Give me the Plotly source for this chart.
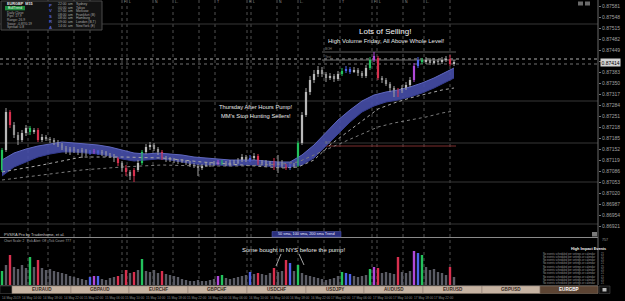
import plotly.graph_objects as go

W, H = 625, 301
FONT = "Liberation Sans"

# ---------------- data ----------------
opens = [0.87090,0.87150,0.87264,0.87225,0.87195,0.87180,0.87201,0.87216,0.87204,0.87210,
         0.87180,0.87189,0.87183,0.87180,0.87174,0.87165,0.87156,0.87144,0.87153,0.87147,
         0.87144,0.87150,0.87141,0.87144,0.87147,0.87141,0.87144,0.87135,0.87132,0.87126,
         0.87111,0.87096,0.87084,0.87072,0.87090,0.87111,0.87144,0.87159,0.87165,0.87153,
         0.87144,0.87126,0.87120,0.87123,0.87117,0.87114,0.87117,0.87111,0.87105,0.87102,
         0.87096,0.87102,0.87108,0.87105,0.87111,0.87114,0.87111,0.87108,0.87114,0.87111,
         0.87120,0.87129,0.87120,0.87126,0.87132,0.87111,0.87114,0.87108,0.87111,0.87105,
         0.87114,0.87102,0.87096,0.87102,0.87105,0.87171,0.87255,0.87324,0.87360,0.87378,
         0.87390,0.87378,0.87366,0.87372,0.87363,0.87378,0.87387,0.87393,0.87384,0.87390,
         0.87381,0.87372,0.87396,0.87420,0.87426,0.87366,0.87360,0.87348,0.87336,0.87321,
         0.87327,0.87336,0.87345,0.87360,0.87402,0.87420,0.87414,0.87420,0.87411,0.87417,
         0.87414,0.87420,0.87423,0.87408]
highs = [0.87156,0.87276,0.87270,0.87234,0.87204,0.87210,0.87225,0.87222,0.87216,0.87216,
         0.87198,0.87195,0.87189,0.87186,0.87180,0.87171,0.87162,0.87159,0.87159,0.87153,
         0.87156,0.87153,0.87150,0.87153,0.87150,0.87150,0.87147,0.87141,0.87138,0.87129,
         0.87117,0.87105,0.87090,0.87096,0.87120,0.87150,0.87168,0.87174,0.87171,0.87159,
         0.87150,0.87132,0.87129,0.87126,0.87123,0.87123,0.87120,0.87117,0.87111,0.87108,
         0.87108,0.87114,0.87114,0.87117,0.87120,0.87120,0.87117,0.87120,0.87120,0.87126,
         0.87138,0.87135,0.87135,0.87141,0.87138,0.87120,0.87120,0.87117,0.87126,0.87135,
         0.87120,0.87108,0.87108,0.87111,0.87177,0.87264,0.87336,0.87372,0.87390,0.87402,
         0.87399,0.87384,0.87381,0.87378,0.87387,0.87396,0.87402,0.87399,0.87399,0.87396,
         0.87387,0.87405,0.87429,0.87444,0.87432,0.87372,0.87366,0.87354,0.87342,0.87336,
         0.87345,0.87354,0.87369,0.87411,0.87429,0.87426,0.87429,0.87426,0.87426,0.87423,
         0.87429,0.87432,0.87435,0.87420]
lows = [0.87084,0.87144,0.87216,0.87186,0.87165,0.87174,0.87192,0.87195,0.87198,0.87174,
        0.87174,0.87177,0.87171,0.87165,0.87159,0.87150,0.87138,0.87135,0.87141,0.87135,
        0.87126,0.87132,0.87135,0.87138,0.87135,0.87132,0.87129,0.87126,0.87114,0.87102,
        0.87084,0.87072,0.87060,0.87054,0.87084,0.87105,0.87138,0.87150,0.87147,0.87135,
        0.87120,0.87114,0.87114,0.87111,0.87108,0.87111,0.87105,0.87099,0.87096,0.87072,
        0.87090,0.87099,0.87099,0.87102,0.87105,0.87105,0.87102,0.87102,0.87105,0.87108,
        0.87114,0.87114,0.87114,0.87120,0.87105,0.87105,0.87102,0.87102,0.87090,0.87081,
        0.87096,0.87090,0.87090,0.87096,0.87099,0.87165,0.87249,0.87315,0.87351,0.87369,
        0.87369,0.87354,0.87360,0.87354,0.87357,0.87372,0.87381,0.87378,0.87381,0.87372,
        0.87366,0.87366,0.87390,0.87414,0.87360,0.87351,0.87342,0.87324,0.87309,0.87309,
        0.87321,0.87330,0.87339,0.87354,0.87396,0.87408,0.87408,0.87405,0.87408,0.87405,
        0.87408,0.87414,0.87402,0.87402]
closes = [0.87150,0.87264,0.87225,0.87195,0.87180,0.87201,0.87216,0.87204,0.87210,0.87180,
          0.87189,0.87183,0.87180,0.87174,0.87165,0.87156,0.87144,0.87153,0.87147,0.87144,
          0.87150,0.87141,0.87144,0.87147,0.87141,0.87144,0.87135,0.87132,0.87126,0.87111,
          0.87096,0.87084,0.87072,0.87090,0.87111,0.87144,0.87159,0.87165,0.87153,0.87144,
          0.87126,0.87120,0.87123,0.87117,0.87114,0.87117,0.87111,0.87105,0.87102,0.87096,
          0.87102,0.87108,0.87105,0.87111,0.87114,0.87111,0.87108,0.87114,0.87111,0.87120,
          0.87129,0.87120,0.87126,0.87132,0.87111,0.87114,0.87108,0.87111,0.87105,0.87114,
          0.87102,0.87096,0.87102,0.87105,0.87171,0.87255,0.87324,0.87360,0.87378,0.87390,
          0.87378,0.87366,0.87372,0.87363,0.87378,0.87387,0.87393,0.87384,0.87390,0.87381,
          0.87372,0.87396,0.87420,0.87432,0.87366,0.87360,0.87348,0.87336,0.87321,0.87327,
          0.87336,0.87345,0.87360,0.87402,0.87420,0.87414,0.87420,0.87411,0.87417,0.87414,
          0.87420,0.87423,0.87408,0.87414]
volumes = [280,400,600,360,320,400,340,560,360,500,
           340,300,320,280,260,240,220,180,160,140,
           120,100,160,180,180,120,100,140,160,180,
           220,300,240,260,300,520,280,260,300,240,
           280,220,200,180,160,120,100,80,80,100,
           80,80,100,120,180,200,140,120,140,160,
           180,200,260,220,240,220,200,240,340,260,
           280,500,440,280,400,240,200,180,160,140,
           120,100,120,140,180,260,240,220,180,160,
           180,200,320,360,340,240,260,240,220,560,
           260,240,280,680,640,600,360,300,320,260,
           240,200,360,160]
# PVSRA climax / rising-volume candles: g=bull climax, r=bear climax, b=bull rising, m=bear rising
pvsra_marks = {0: 'g', 2: 'r', 7: 'g', 9: 'r', 22: 'b', 23: 'm', 24: 'b', 29: 'r', 31: 'r',
               33: 'r', 35: 'g', 40: 'r', 54: 'm', 55: 'g', 62: 'b', 64: 'r', 68: 'r',
               71: 'r', 72: 'b', 74: 'g', 85: 'g', 86: 'b', 87: 'b', 92: 'g', 93: 'm',
               94: 'r', 99: 'r', 103: 'm', 104: 'b', 105: 'g', 112: 'r'}

band_idx = [0,3,6,9,12,15,18,21,24,27,30,33,36,39,42,45,48,51,54,57,60,63,66,69,72,75,78,81,84,87,90,93,96,99,102,105,108,111,113]
band_top = [0.87120,0.87141,0.87153,0.87162,0.87168,0.87174,0.87171,0.87168,0.87165,0.87159,
            0.87150,0.87141,0.87138,0.87141,0.87138,0.87135,0.87129,0.87126,0.87123,0.87120,
            0.87120,0.87120,0.87117,0.87114,0.87114,0.87135,0.87165,0.87201,0.87240,0.87270,
            0.87297,0.87315,0.87324,0.87330,0.87339,0.87351,0.87366,0.87384,0.87396]
band_bot = [0.87072,0.87099,0.87114,0.87129,0.87138,0.87144,0.87144,0.87141,0.87138,0.87132,
            0.87123,0.87117,0.87120,0.87123,0.87120,0.87114,0.87108,0.87105,0.87105,0.87102,
            0.87105,0.87105,0.87102,0.87099,0.87099,0.87105,0.87126,0.87162,0.87201,0.87234,
            0.87264,0.87282,0.87294,0.87300,0.87309,0.87321,0.87336,0.87354,0.87366]
sma_idx = [0,10,20,30,40,50,60,70,74,78,82,86,90,94,98,102,106,110,113]
sma100 = [0.87084,0.87105,0.87129,0.87129,0.87126,0.87114,0.87105,0.87096,0.87099,0.87120,
          0.87165,0.87201,0.87237,0.87273,0.87291,0.87306,0.87318,0.87330,0.87336]
sma200 = [0.87060,0.87075,0.87090,0.87099,0.87105,0.87102,0.87102,0.87108,0.87114,0.87135,
          0.87156,0.87177,0.87198,0.87219,0.87231,0.87240,0.87249,0.87261,0.87267]

price_ticks = [0.87581,0.87548,0.87515,0.87482,0.87449,0.87416,0.87383,0.87350,0.87317,0.87284,
               0.87251,0.87218,0.87185,0.87152,0.87119,0.87086,0.87053,0.87020,0.86987,0.86954,0.86921]
grid_levels = [0.87528, 0.87297, 0.87171, 0.87054, 0.86928]
whole_levels = [0.87423, 0.87408]
range_levels = [0.87444, 0.87420, 0.87162]
range_names = ["BOH", "Yest", "BOL"]
range_start = 80

session_idx = [6.5, 11.5, 18, 22, 30, 31.25, 37.75, 42.75, 49.25, 53.25, 61.25, 62.25, 68.75,
               74, 80.5, 84.5, 92.5, 93.75, 100.25, 105.5, 112]
session_tags = ["", "", "", "", "F", "L", "N", "L-", "", "T", "F", "L", "N",
                "L-", "", "T", "F", "L", "N", "L-", ""]

time_labels = ["14 May 2019", "14 May 14:00", "14 May 18:00", "14 May 22:00", "15 May 02:00",
               "15 May 06:00", "15 May 10:00", "15 May 14:00", "15 May 18:00", "15 May 22:00",
               "16 May 02:00", "16 May 06:00", "16 May 10:00", "16 May 14:00", "16 May 18:00",
               "16 May 22:00", "17 May 02:00", "17 May 06:00", "17 May 10:00", "17 May 14:00",
               "17 May 18:00", "17 May 22:00"]
pairs = ["EURAUD", "GBPAUD", "EURCHF", "GBPCHF", "USDCHF", "USDJPY", "AUDUSD", "EURUSD", "GBPUSD", "EURGBP"]
active_pair = "EURGBP"

info_lines = ["Daily Close", "Pips: 17.9", "Range: 26.9", "Swap: -0.87/0.19", "Spread: 0.8"]
session_times = [("22:00", "Sydney"), ("00:00", "Tokyo"), ("07:00", "Moscow"), ("08:00", "Frankfurt (B)"),
                 ("08:00", "Hamburg"), ("09:00", "London (B,T)"), ("14:00", "NewYork (E)")]
event_counts = ["21", "21", "25", "21", "25", "25", "21", "21", "25", "21"]

# ---------------- helpers ----------------
def px(x):
    return x / W

def py(y):
    return 1 - y / H

ann = []
shp = []

def txt(x, y, s, size, color="#d0d0d0", xa="left", ya="middle", bold=False, family=FONT):
    ann.append(dict(x=px(x), y=py(y), xref="paper", yref="paper", text=("<b>%s</b>" % s) if bold else s,
                    showarrow=False, xanchor=xa, yanchor=ya, borderpad=0,
                    font=dict(size=size, color=color, family=family)))

def rect(x0, y0, x1, y1, fill, line=None, lw=1):
    shp.append(dict(type="rect", xref="paper", yref="paper", x0=px(x0), x1=px(x1), y0=py(y1), y1=py(y0),
                    fillcolor=fill, line=dict(color=line or fill, width=lw if line else 0), layer="above"))

def seg(x0, y0, x1, y1, color, width=1, dash="solid"):
    shp.append(dict(type="line", xref="paper", yref="paper", x0=px(x0), x1=px(x1), y0=py(y0), y1=py(y1),
                    line=dict(color=color, width=width, dash=dash), layer="above"))

COL = {'g': '#23c25c', 'r': '#d8304f', 'b': '#4d62e8', 'm': '#b048d8'}
N = len(closes)
idx = list(range(N))
cats = ['n'] * N
for k, v in pvsra_marks.items():
    cats[k] = v

fig = go.Figure()

# session / day separator lines (vertical dotted)
for s in session_idx:
    shp.append(dict(type="line", xref="x", yref="paper", x0=s, x1=s, y0=py(285), y1=1,
                    line=dict(color="#505050", width=1, dash="dot"), layer="below"))
# grid price levels
for lv in grid_levels:
    shp.append(dict(type="line", xref="paper", yref="y", x0=0, x1=px(598), y0=lv, y1=lv,
                    line=dict(color="#363636", width=1), layer="below"))
# whole-level dotted lines
for lv, c in zip(whole_levels, ["#b0b0b0", "#707070"]):
    shp.append(dict(type="line", xref="paper", yref="y", x0=0, x1=px(598), y0=lv, y1=lv,
                    line=dict(color=c, width=1, dash="dot"), layer="below"))
# range levels after the pump
for lv, c, nm in zip(range_levels, ["#5e5e5e", "#6e6e6e", "#7e2e2e"], range_names):
    shp.append(dict(type="line", xref="x", yref="y", x0=range_start, x1=N - 0.5, y0=lv, y1=lv,
                    line=dict(color=c, width=1), layer="below"))
    ann.append(dict(x=range_start + 0.5, y=lv, xref="x", yref="y", text=nm, showarrow=False,
                    xanchor="left", yanchor="bottom", borderpad=0,
                    font=dict(size=3.2, color="#808080", family=FONT)))

# MA band (50 sma cloud)
fig.add_trace(go.Scatter(x=band_idx, y=band_top, mode="lines", line=dict(color="#6068c0", width=1),
                         hoverinfo="skip"))
fig.add_trace(go.Scatter(x=band_idx, y=band_bot, mode="lines", line=dict(color="#353c90", width=1),
                         fill="tonexty", fillcolor="rgba(70,78,168,0.9)", hoverinfo="skip"))
# 100 / 200 sma dotted
fig.add_trace(go.Scatter(x=sma_idx, y=sma100, mode="lines", line=dict(color="#a8a8a8", width=1, dash="dot"),
                         hoverinfo="skip"))
fig.add_trace(go.Scatter(x=sma_idx, y=sma200, mode="lines", line=dict(color="#7c7c7c", width=1, dash="dot"),
                         hoverinfo="skip"))

# wicks
for cat, color in [('n', '#a0a0a0')] + list(COL.items()):
    xs, ys = [], []
    for i in idx:
        if cats[i] == cat:
            xs += [i, i, None]
            ys += [lows[i], highs[i], None]
    if xs:
        fig.add_trace(go.Scatter(x=xs, y=ys, mode="lines", line=dict(color=color, width=1),
                                 hoverinfo="skip"))
# bodies
body_col = []
for i in idx:
    if cats[i] == 'n':
        body_col.append('#d2d2d2' if closes[i] >= opens[i] else '#858585')
    else:
        body_col.append(COL[cats[i]])
fig.add_trace(go.Bar(x=idx, y=[c - o for o, c in zip(opens, closes)], base=opens, width=0.55,
                     marker=dict(color=body_col, line=dict(width=0)), hoverinfo="skip"))

# volume pane
vol_col = ['#5a5b64' if c == 'n' else COL[c] for c in cats]
fig.add_trace(go.Bar(x=idx, y=volumes, width=0.6, marker=dict(color=vol_col, line=dict(width=0)),
                     xaxis="x2", yaxis="y2", hoverinfo="skip"))

# session tags at the top
for s, t in zip(session_idx, session_tags):
    if t:
        ann.append(dict(x=s + 0.3, y=py(2.5), xref="x", yref="paper", text=t, showarrow=False,
                        xanchor="left", yanchor="middle", borderpad=0,
                        font=dict(size=3.5, color="#9a9a9a", family=FONT)))

# ---------- info box (top-left) ----------
rect(1, 1, 102, 30, "#131313", "#4a4a4a")
txt(6, 3.6, "EURGBP  M15", 3.8, "#e8e8e8", bold=True)
rect(5, 6, 25, 10.3, "#1d8c3c")
txt(6.5, 8.2, "BullTrend", 3.3, "#e8ffe8")
for k, s in enumerate(info_lines):
    txt(6, 13 + 3.5 * k, s, 3.3, "#a8a8a8")
txt(50, 16, "<br>".join("PVSRA"), 4.2, "#5563d8", xa="center", bold=True)
for k, (t, nm) in enumerate(session_times):
    yy = 4 + 3.6 * k
    txt(57, yy, t, 3.4, "#a8a8a8")
    txt(67, yy, "am", 3.4, "#a8a8a8")
    txt(75, yy, nm, 3.4, "#a8a8a8")

# top right buttons
rect(578, 1.5, 583, 5.5, "#6a6a6a")
rect(585, 1.5, 590, 5.5, "#6a6a6a")

# ---------- chart notes ----------
txt(385, 31, "Lots of Selling!", 8, "#f4f4f4", xa="center")
txt(386, 40.5, "High Volume Friday, All Above Whole Level!", 6, "#e8e8e8", xa="center")
txt(255.5, 107, "Thursday After Hours Pump!", 5.8, "#e8e8e8", xa="center")
txt(255.5, 116.5, "MM's Stop Hunting Sellers!", 5.8, "#e8e8e8", xa="center")

# current price box
ann.append(dict(x=px(600), y=closes[-1], xref="paper", yref="y", text="%.5f" % closes[-1], showarrow=False,
                xanchor="left", yanchor="middle", bgcolor="#d4d4d4", borderpad=0.5,
                font=dict(size=5, color="#000000", family=FONT)))

# separators
seg(0, 237.5, 598, 237.5, "#8a8a8a")
seg(598, 0, 598, 285, "#6a6a6a")
seg(0, 285.5, 598, 285.5, "#3a3a3a")

# ---------- sub-window header ----------
txt(3, 234.6, "PVSRA Pro by Tradenhome, et al.", 4, "#c8c8c8")
rect(272, 231.5, 341, 237, "#2a2f7e", "#5a62b8", 0.5)
txt(306.5, 234.3, "50 sma, 100 sma, 200 sma Trend", 3.8, "#e8e8ff", xa="center")
txt(3, 241, "Chart Scale: 2   Pick Alert: Off   Tick Count: 777", 3.2, "#a8a8a8")
txt(601, 240, "757", 3.6, "#a0a0a0")
rect(592, 232, 597, 236.5, "#7a7a7a")

txt(293.5, 250, "Some bought in NYS before the pump!", 6, "#ececec", xa="center")
seg(281, 254, 276, 266, "#cfcfcf", 0.8)
seg(299, 254, 304, 265, "#cfcfcf", 0.8)

# High Impact Events list
txt(588, 248.5, "High Impact Events", 3.8, "#f0f0f0", xa="center", bold=True)
for k in range(10):
    txt(542, 253.5 + 3.3 * k, "No events scheduled per settings or calendar", 2.6, "#9a9a9a")
    txt(600, 253.5 + 3.3 * k, event_counts[k], 2.6, "#9a9a9a")

# ---------- pair tabs ----------
bounds = [12, 71, 129, 188, 247, 306, 364, 423, 482, 540, 598]
rect(0, 286, 12, 293.5, "#050505", "#555555", 0.5)
for k, p in enumerate(pairs):
    active = (p == active_pair)
    rect(bounds[k], 286, bounds[k + 1], 293.5, "#5c4433" if active else "#c6b3a2", "#8a7a6c", 0.5)
    txt((bounds[k] + bounds[k + 1]) / 2, 289.9, p, 4.6, "#ffffff" if active else "#3a2a22",
        xa="center", bold=True)
rect(599, 286, 610, 293.5, "#111111", "#555555", 0.5)
rect(602.5, 288, 606.5, 291.5, "#bdbdbd")

# ---------- time axis labels ----------
for k, lab in enumerate(time_labels):
    ann.append(dict(x=k * 5.15 - 0.3, y=py(297.5), xref="x", yref="paper", text=lab, showarrow=False,
                    xanchor="left", yanchor="middle", borderpad=0,
                    font=dict(size=3.2, color="#8c8c8c", family=FONT)))

fig.update_layout(
    width=W, height=H, margin=dict(l=0, r=0, t=0, b=0),
    paper_bgcolor="#000000", plot_bgcolor="#000000", showlegend=False, barmode="overlay",
    xaxis=dict(domain=[0, 598 / W], range=[-0.5, 149], visible=False, anchor="y"),
    yaxis=dict(domain=[1 - 237 / H, 1], range=[0.86889, 0.87600], side="right", anchor="x",
               tickvals=price_ticks, ticktext=["%.5f" % v for v in price_ticks],
               tickfont=dict(size=5, color="#a0a0a0", family=FONT), showgrid=False, zeroline=False,
               ticks="outside", ticklen=2, tickcolor="#777777", showline=False),
    xaxis2=dict(domain=[0, 598 / W], range=[-0.5, 149], visible=False, anchor="y2", matches="x"),
    yaxis2=dict(domain=[1 - 285 / H, 1 - 243 / H], range=[0, 840], visible=False, anchor="x2"),
    annotations=ann, shapes=shp,
)

fig.write_html("out.html")
